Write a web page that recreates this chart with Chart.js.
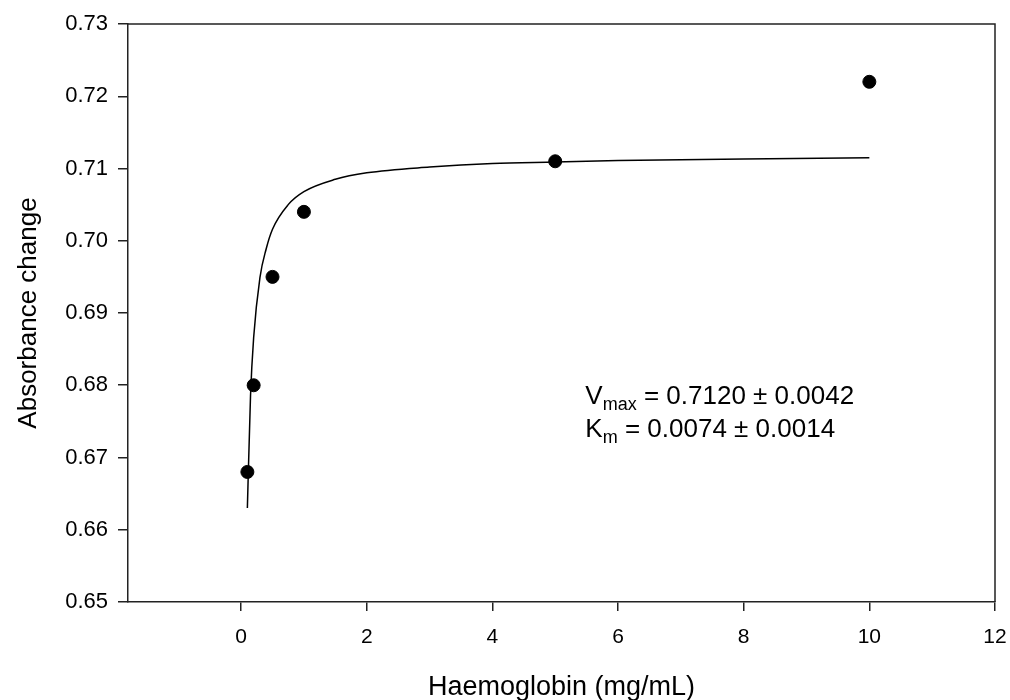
<!DOCTYPE html>
<html>
<head>
<meta charset="utf-8">
<script src="https://cdn.jsdelivr.net/npm/chart.js@4"></script>
<style>
  body { margin: 0; background: #fff; }
  #wrap { width: 1010px; height: 700px; }
</style>
</head>
<body>
<div id="wrap"><canvas id="chart" width="1010" height="700"></canvas></div>
<script>
// measured points
const concX = [0.1, 0.2, 0.5, 1, 5, 10];
const absY = [0.668, 0.680, 0.695, 0.704, 0.711, 0.722];

// fitted curve
const fitX = [0.1, 0.15, 0.2, 0.3, 0.4, 0.5, 0.75, 1, 1.5, 2, 3, 4, 5, 6, 8, 10];
const fitY = [0.663, 0.6785, 0.6866, 0.6949, 0.6989, 0.7016, 0.705, 0.7068, 0.7085, 0.7094, 0.7102, 0.7107, 0.7109, 0.7111, 0.7113, 0.7115];

const xTicks = [0, 2, 4, 6, 8, 10, 12];
const yTicks = [0.65, 0.66, 0.67, 0.68, 0.69, 0.70, 0.71, 0.72, 0.73];

const fontFam = "'Liberation Sans', Arial, sans-serif";
const axisColor = "#222";

// box round the plot + fit parameters text
const framePlugin = {
  id: "frame",
  afterDraw(chart) {
    const { ctx, chartArea: a, scales } = chart;
    ctx.save();
    ctx.strokeStyle = axisColor;
    ctx.lineWidth = 1.5;
    ctx.beginPath();
    ctx.moveTo(a.left, a.top);
    ctx.lineTo(a.right, a.top);
    ctx.lineTo(a.right, a.bottom);
    ctx.stroke();

    ctx.fillStyle = "#000";
    ctx.textBaseline = "alphabetic";
    const lines = [
      ["V", "max", " = 0.7120 \u00b1 0.0042"],
      ["K", "m", " = 0.0074 \u00b1 0.0014"],
    ];
    const x0 = scales.x.getPixelForValue(5.48);
    const y0 = scales.y.getPixelForValue(0.6774);
    lines.forEach((ln, i) => {
      const y = y0 + i * 33;
      let x = x0;
      ctx.font = "26px " + fontFam;
      ctx.fillText(ln[0], x, y);
      x += ctx.measureText(ln[0]).width;
      ctx.font = "18px " + fontFam;
      ctx.fillText(ln[1], x, y + 6);
      x += ctx.measureText(ln[1]).width;
      ctx.font = "26px " + fontFam;
      ctx.fillText(ln[2], x, y);
    });
    ctx.restore();
  },
};

new Chart(document.getElementById("chart").getContext("2d"), {
  type: "scatter",
  data: {
    datasets: [
      {
        type: "line",
        data: fitX.map((x, i) => ({ x: x, y: fitY[i] })),
        borderColor: "#000",
        borderWidth: 1.5,
        pointRadius: 0,
        cubicInterpolationMode: "monotone",
        fill: false,
      },
      {
        data: concX.map((x, i) => ({ x: x, y: absY[i] })),
        backgroundColor: "#000",
        borderColor: "#000",
        pointRadius: 6.5,
        pointHoverRadius: 6.5,
      },
    ],
  },
  options: {
    responsive: false,
    animation: false,
    layout: { padding: { top: 24, right: 15, left: 0, bottom: 0 } },
    plugins: {
      legend: { display: false },
      tooltip: { enabled: false },
    },
    scales: {
      x: {
        type: "linear",
        min: -1.8,
        max: 12,
        afterBuildTicks: (s) => { s.ticks = xTicks.map((v) => ({ value: v })); },
        afterFit: (s) => { s.height = 98; s.paddingLeft = 0; s.paddingRight = 0; },
        ticks: {
          color: "#000",
          font: { family: fontFam, size: 21 },
          padding: 14,
          maxRotation: 0,
        },
        grid: { drawOnChartArea: false, tickLength: 9, color: axisColor, lineWidth: 1.5 },
        border: { color: axisColor, width: 1.5 },
        title: {
          display: true,
          text: "Haemoglobin (mg/mL)",
          color: "#000",
          font: { family: fontFam, size: 27, lineHeight: 0.95 },
          padding: { top: 0, bottom: 0 },
        },
      },
      y: {
        type: "linear",
        min: 0.65,
        max: 0.73,
        afterBuildTicks: (s) => { s.ticks = yTicks.map((v) => ({ value: v })); },
        afterFit: (s) => { s.width = 128; s.paddingTop = 0; s.paddingBottom = 0; },
        ticks: {
          color: "#000",
          font: { family: fontFam, size: 22 },
          padding: 10,
          callback: (v) => v.toFixed(2),
        },
        grid: { drawOnChartArea: false, tickLength: 10, color: axisColor, lineWidth: 1.5 },
        border: { color: axisColor, width: 1.5 },
        title: {
          display: true,
          text: "Absorbance change",
          color: "#000",
          font: { family: fontFam, size: 26 },
          padding: { top: 13, bottom: 13 },
        },
      },
    },
  },
  plugins: [framePlugin],
});
</script>
</body>
</html>
